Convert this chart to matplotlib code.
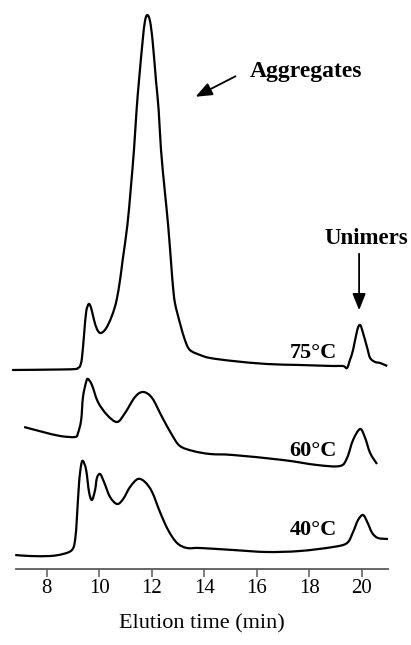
import numpy as np
import matplotlib
matplotlib.use("Agg")
import matplotlib.pyplot as plt
from matplotlib.path import Path
from matplotlib.patches import PathPatch

plt.rcParams['font.family'] = ['Liberation Serif', 'DejaVu Serif']

# elution time (min) and detector signal (a.u.) for each temperature
t_75 = [6.68, 8.50, 9.10, 9.19, 9.27, 9.34, 9.42, 9.50, 9.60, 9.69, 9.80, 9.91,
        10.03, 10.18, 10.33, 10.52, 10.66, 10.79, 10.89, 11.07, 11.20, 11.32, 11.42,
        11.51, 11.65, 11.74, 11.83, 11.93, 12.03, 12.16, 12.26, 12.35, 12.49, 12.62,
        12.74, 12.80, 12.88, 13.07, 13.26, 13.45, 13.84, 14.22, 15.09, 16.38, 17.64,
        18.90, 19.28, 19.43, 19.54, 19.66, 19.82, 19.93, 20.04, 20.20, 20.31, 20.50,
        20.69, 20.96]
s_75 = [0, 0.5, 1, 2, 4, 12, 35, 58, 66, 62, 50, 41,
        37, 39, 45, 57, 70, 90, 110, 145, 182, 220, 260,
        289, 329, 349, 355, 349, 329, 289, 260, 220, 180, 145,
        105, 85, 67, 47, 30, 20, 15, 12, 9, 6, 5,
        4, 4, 2, 10, 20, 40, 45, 37, 22, 12, 8,
        7, 4]

t_60 = [7.14, 7.86, 8.51, 9.08, 9.19, 9.31, 9.38, 9.50, 9.57, 9.72, 9.95, 10.30,
        10.68, 10.98, 11.36, 11.67, 12.01, 12.39, 12.77, 13.07, 13.57, 14.22, 15.09,
        16.99, 18.29, 19.16, 19.43, 19.66, 19.93, 20.12, 20.31, 20.57]
s_60 = [39, 34, 30, 29, 33, 46, 69, 84, 87, 81, 64, 51,
        44, 53, 69, 74, 68, 49, 31, 20, 15, 12, 11,
        6, 1, 0, 8, 26, 37, 28, 13, 2]

t_40 = [6.80, 7.36, 8.13, 8.62, 8.96, 9.08, 9.15, 9.23, 9.31, 9.38, 9.50, 9.61,
        9.72, 9.84, 9.91, 10.03, 10.18, 10.41, 10.68, 10.91, 11.17, 11.47, 11.74,
        12.01, 12.31, 12.62, 12.96, 13.34, 13.84, 15.09, 16.38, 17.64, 18.90, 19.43,
        19.66, 19.85, 20.04, 20.20, 20.39, 20.61, 20.99]
s_40 = [1, 0, 0, 2, 6, 16, 39, 73, 91, 95, 86, 64,
        56, 66, 78, 82, 74, 59, 52, 57, 69, 77, 74,
        64, 44, 26, 13, 8, 8, 6, 4, 5, 9, 13,
        24, 36, 41, 34, 23, 18, 17]

labels = ['75°C', '60°C', '40°C']
offsets = [199, 103, 13]
xticks = [8, 10, 12, 14, 16, 18, 20]


def smooth_path(x, y):
    # Catmull-Rom through the points, written as cubic Bezier segments
    p = np.column_stack([x, y]).astype(float)
    ext = np.vstack([p[0], p, p[-1]])
    verts = [p[0]]
    codes = [Path.MOVETO]
    for i in range(len(p) - 1):
        p0, p1, p2, p3 = ext[i], ext[i + 1], ext[i + 2], ext[i + 3]
        verts += [p1 + (p2 - p0) / 6, p2 - (p3 - p1) / 6, p2]
        codes += [Path.CURVE4] * 3
    return Path(verts, codes)


fig = plt.figure(figsize=(4.11, 6.45), dpi=100)
ax = fig.add_axes([16/411, 76/645, 372/411, 569/645])

traces = [(t_75, s_75), (t_60, s_60), (t_40, s_40)]
for (t, s), off in zip(traces, offsets):
    path = smooth_path(t, np.array(s) + off)
    ax.add_patch(PathPatch(path, fill=False, edgecolor='black', lw=1.6,
                           clip_on=False, joinstyle='round'))

# temperature tags sit just left of the unimer peaks
tag_y = [216, 118, 39]
for lab, y in zip(labels, tag_y):
    ax.text(19.05, y, lab, ha='right', va='center', fontsize=16,
            fontweight='bold')

ax.text(15.74, 498, 'Aggregates', ha='left', va='center', fontsize=17,
        fontweight='bold')
ax.annotate('', xy=(13.57, 471), xytext=(15.28, 494),
            arrowprops=dict(arrowstyle='-|>,head_length=1.0,head_width=0.4',
                            color='black', lw=1.3))

ax.text(20.16, 331, 'Unimers', ha='center', va='center', fontsize=16.5,
        fontweight='bold', clip_on=False)
ax.annotate('', xy=(19.89, 256), xytext=(19.89, 318),
            arrowprops=dict(arrowstyle='-|>,head_length=1.0,head_width=0.4',
                            color='black', lw=1.3))

ax.set_xlim(6.83, 20.99)
ax.set_ylim(0, 569)
ax.set_xticks(xticks)
ax.set_yticks([])
for side in ['left', 'right', 'top']:
    ax.spines[side].set_visible(False)
ax.spines['bottom'].set_color('#5a5a5a')
ax.spines['bottom'].set_linewidth(1.3)
ax.tick_params(axis='x', direction='out', length=6, width=1.1,
               color='#5a5a5a', labelsize=15, pad=1)
ax.set_xlabel('Elution time (min)', fontsize=16, labelpad=12)

fig.savefig('out.png', dpi=100)
